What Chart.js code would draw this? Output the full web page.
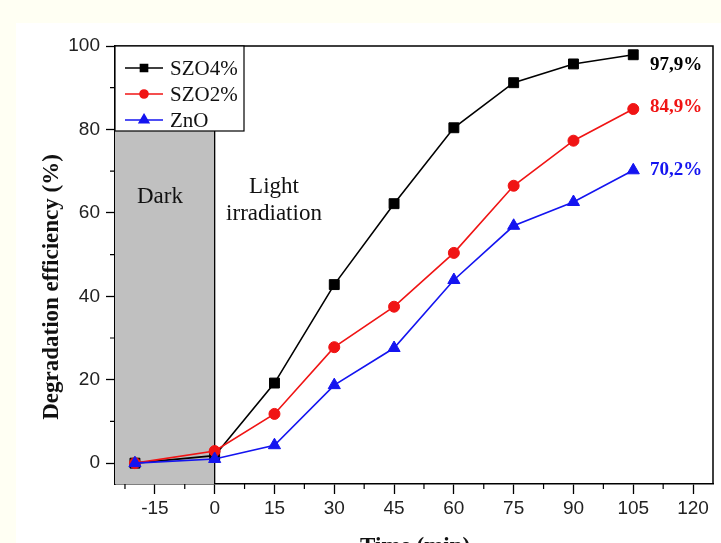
<!DOCTYPE html>
<html>
<head>
<meta charset="utf-8">
<script src="https://cdn.jsdelivr.net/npm/chart.js@4/dist/chart.umd.min.js"></script>
<style>
  html, body { margin: 0; padding: 0; background: #fffff3; overflow: hidden; }
  canvas { display: block; }
</style>
</head>
<body>
<canvas id="c" width="721" height="543"></canvas>
<script>
// ---- data ----
const timeMin = [-20, 0, 15, 30, 45, 60, 75, 90, 105];
const szo4 = [0, 1.8, 19.2, 42.8, 62.2, 80.4, 91.2, 95.7, 97.9];
const szo2 = [0, 2.9, 11.8, 27.8, 37.5, 50.4, 66.5, 77.3, 84.9];
const zno  = [0, 1.0, 4.3, 18.7, 27.6, 43.9, 56.9, 62.6, 70.2];
const seriesNames = ['SZO4%', 'SZO2%', 'ZnO'];
const endLabels = ['97,9%', '84,9%', '70,2%'];
const xTicks = [-15, 0, 15, 30, 45, 60, 75, 90, 105, 120];
const yTicks = [0, 20, 40, 60, 80, 100];
const xMinorTicks = [-22.5, -7.5, 7.5, 22.5, 37.5, 52.5, 67.5, 82.5, 97.5, 112.5];
const yMinorTicks = [10, 30, 50, 70, 90];
const darkEnd = 0, darkTop = 80;

const colors = ['#000000', '#f01414', '#1414f0'];
const styles = ['rect', 'circle', 'triangle'];
const radii = [7, 5.5, 7];
const legendRadii = [5, 4, 5.5];
const seriesValues = [szo4, szo2, zno];

const serif = '"Liberation Serif", "Times New Roman", serif';
const sans = '"Liberation Sans", Arial, sans-serif';

const bgPlugin = {
  id: 'bg',
  beforeDraw(chart) {
    const ctx = chart.ctx;
    ctx.save();
    ctx.fillStyle = '#fffff3';
    ctx.fillRect(0, 0, chart.width, chart.height);
    ctx.fillStyle = '#ffffff';
    ctx.fillRect(16, 23, chart.width - 16, chart.height - 23);
    ctx.restore();
  },
  beforeDatasetsDraw(chart) {
    const {ctx, chartArea, scales: {x, y}} = chart;
    const x0 = chartArea.left, x1 = x.getPixelForValue(darkEnd);
    const y0 = y.getPixelForValue(darkTop), y1 = chartArea.bottom;
    ctx.save();
    ctx.fillStyle = '#c0c0c0';
    ctx.fillRect(x0, y0, x1 - x0, y1 - y0);
    ctx.strokeStyle = '#000';
    ctx.lineWidth = 1.3;
    ctx.beginPath();
    ctx.moveTo(x1, y0);
    ctx.lineTo(x1, y1);
    ctx.stroke();
    ctx.fillStyle = '#111';
    ctx.font = '23px ' + serif;
    ctx.textAlign = 'center';
    ctx.textBaseline = 'alphabetic';
    ctx.fillText('Dark', 160, 203);
    ctx.fillText('Light', 274, 193);
    ctx.fillText('irradiation', 274, 220);
    ctx.restore();
  },
  afterDatasetsDraw(chart) {
    const {ctx, chartArea, scales: {x, y}} = chart;
    ctx.save();
    // frame top & right
    ctx.strokeStyle = '#000';
    ctx.lineWidth = 1.5;
    ctx.beginPath();
    ctx.moveTo(chartArea.left, chartArea.top);
    ctx.lineTo(chartArea.right, chartArea.top);
    ctx.lineTo(chartArea.right, chartArea.bottom);
    ctx.stroke();
    // minor ticks
    ctx.lineWidth = 1.2;
    ctx.beginPath();
    xMinorTicks.forEach(v => {
      const px = x.getPixelForValue(v);
      ctx.moveTo(px, chartArea.bottom);
      ctx.lineTo(px, chartArea.bottom + 5);
    });
    yMinorTicks.forEach(v => {
      const py = y.getPixelForValue(v);
      ctx.moveTo(chartArea.left, py);
      ctx.lineTo(chartArea.left - 5, py);
    });
    ctx.stroke();
    // end labels
    ctx.font = 'bold 19px ' + serif;
    ctx.textAlign = 'left';
    ctx.textBaseline = 'middle';
    const endY = [65, 107, 170];
    endLabels.forEach((t, i) => {
      ctx.fillStyle = colors[i];
      ctx.fillText(t, 650, endY[i]);
    });
    // legend
    const lx0 = chartArea.left, lx1 = 244, ly0 = chartArea.top, ly1 = 131;
    ctx.fillStyle = '#fff';
    ctx.fillRect(lx0, ly0, lx1 - lx0, ly1 - ly0);
    ctx.strokeStyle = '#000';
    ctx.lineWidth = 1.2;
    ctx.strokeRect(lx0, ly0, lx1 - lx0, ly1 - ly0);
    const rowY = [68, 94, 120];
    ctx.font = '21px ' + serif;
    seriesNames.forEach((name, i) => {
      const yy = rowY[i];
      ctx.strokeStyle = colors[i];
      ctx.lineWidth = 1.6;
      ctx.beginPath();
      ctx.moveTo(125, yy);
      ctx.lineTo(163, yy);
      ctx.stroke();
      ctx.fillStyle = colors[i];
      ctx.strokeStyle = colors[i];
      Chart.helpers.drawPoint(ctx, {pointStyle: styles[i], radius: legendRadii[i], rotation: 0, borderWidth: 1}, 144, yy);
      ctx.fillStyle = '#111';
      ctx.textBaseline = 'middle';
      ctx.fillText(name, 170, yy + 1);
    });
    // axis titles
    ctx.fillStyle = '#111';
    ctx.font = 'bold 23px ' + serif;
    ctx.textAlign = 'center';
    ctx.textBaseline = 'alphabetic';
    ctx.fillText('Time (min)', 415, 553);
    ctx.translate(58, 287);
    ctx.rotate(-Math.PI / 2);
    ctx.fillText('Degradation efficiency (%)', 0, 0);
    ctx.restore();
  }
};

const datasets = seriesNames.map((name, i) => ({
  label: name,
  data: timeMin.map((t, k) => ({x: t, y: seriesValues[i][k]})),
  borderColor: colors[i],
  backgroundColor: colors[i],
  pointBackgroundColor: colors[i],
  pointBorderColor: colors[i],
  pointStyle: styles[i],
  pointRadius: radii[i],
  pointBorderWidth: 1,
  borderWidth: 1.6,
  tension: 0,
  clip: false,
  order: 2 - i
}));

new Chart(document.getElementById('c'), {
  type: 'line',
  data: { datasets },
  options: {
    responsive: false,
    animation: false,
    layout: { padding: { top: 46, right: 5, left: 0, bottom: 0 } },
    plugins: { legend: { display: false }, tooltip: { enabled: false } },
    scales: {
      x: {
        type: 'linear',
        min: -25, max: 125,
        afterBuildTicks(scale) { scale.ticks = xTicks.map(v => ({value: v})); },
        afterFit(scale) { scale.height = 59; },
        grid: { drawOnChartArea: false, drawTicks: true, tickLength: 10, tickColor: '#000', tickWidth: 1.3 },
        border: { display: true, color: '#000', width: 1.5 },
        ticks: { font: { family: sans, size: 19 }, color: '#222', padding: 3, maxRotation: 0, autoSkip: false }
      },
      y: {
        type: 'linear',
        min: -5, max: 100,
        afterBuildTicks(scale) { scale.ticks = yTicks.map(v => ({value: v})); },
        afterFit(scale) { scale.width = 115; },
        grid: { drawOnChartArea: false, drawTicks: true, tickLength: 9, tickColor: '#000', tickWidth: 1.3 },
        border: { display: true, color: '#000', width: 1.5 },
        ticks: { font: { family: sans, size: 19 }, color: '#222', padding: 6, autoSkip: false }
      }
    }
  },
  plugins: [bgPlugin]
});
</script>
</body>
</html>
